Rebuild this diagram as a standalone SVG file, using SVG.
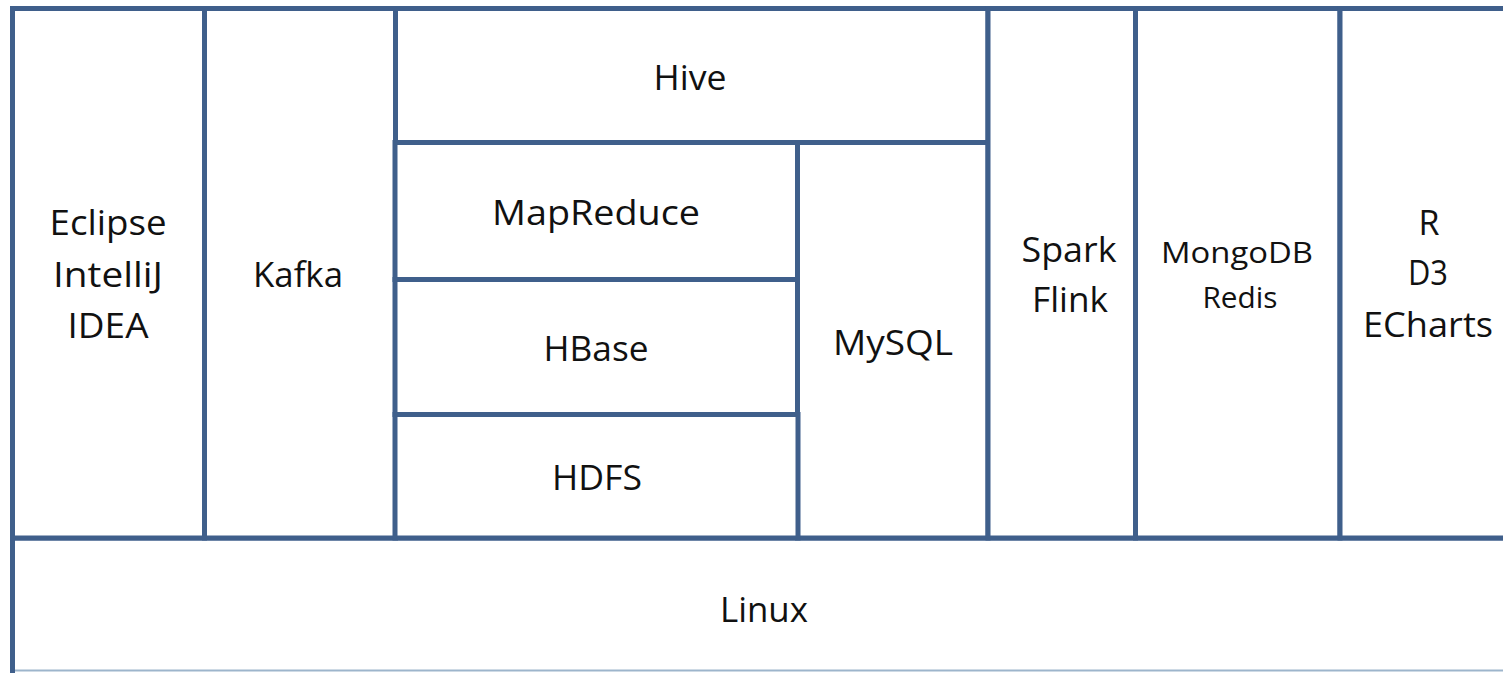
<svg xmlns="http://www.w3.org/2000/svg" width="1503" height="673" viewBox="0 0 1503 673">
<style>
.box{fill:#ffffff;stroke:#3f5f8b;stroke-width:5}
.t{font-family:"Open Sans","Liberation Sans",sans-serif;font-size:34px;fill:#111111;text-anchor:middle}
.s{font-size:29px}
</style>
<rect x="0" y="0" width="1503" height="673" fill="#ffffff"/>
<g id="linux">
<rect class="box" x="12.5" y="538" width="1510" height="160"/>
<line x1="15" y1="670.5" x2="1503" y2="670.5" stroke="#9db5cc" stroke-width="2"/>
<text class="t" x="764" y="622" textLength="88" lengthAdjust="spacingAndGlyphs">Linux</text>
</g>
<g id="ide">
<rect class="box" x="12.5" y="8.5" width="192" height="529.5"/>
<text class="t" x="108" y="235" textLength="117" lengthAdjust="spacingAndGlyphs">Eclipse</text>
<text class="t" x="108" y="287" textLength="110" lengthAdjust="spacingAndGlyphs">IntelliJ</text>
<text class="t" x="108" y="338" textLength="81" lengthAdjust="spacingAndGlyphs">IDEA</text>
</g>
<g id="kafka">
<rect class="box" x="204.5" y="8.5" width="191" height="529.5"/>
<text class="t" x="298" y="287" textLength="90" lengthAdjust="spacingAndGlyphs">Kafka</text>
</g>
<g id="hive">
<rect class="box" x="395.5" y="8.5" width="592.5" height="134"/>
<text class="t" x="690" y="90" textLength="73" lengthAdjust="spacingAndGlyphs">Hive</text>
</g>
<g id="mysql">
<rect class="box" x="797.5" y="142.5" width="190.5" height="395.5"/>
<text class="t" x="893" y="355" textLength="120" lengthAdjust="spacingAndGlyphs">MySQL</text>
</g>
<g id="mapreduce">
<rect class="box" x="395" y="142.5" width="402.5" height="137"/>
<text class="t" x="596" y="225" textLength="208" lengthAdjust="spacingAndGlyphs">MapReduce</text>
</g>
<g id="hbase">
<rect class="box" x="395" y="279.5" width="402.5" height="135"/>
<text class="t" x="596" y="361" textLength="105" lengthAdjust="spacingAndGlyphs">HBase</text>
</g>
<g id="hdfs">
<rect class="box" x="395" y="414.5" width="403" height="123.5"/>
<text class="t" x="597" y="490" textLength="90" lengthAdjust="spacingAndGlyphs">HDFS</text>
</g>
<g id="spark">
<rect class="box" x="988" y="8.5" width="147.5" height="529.5"/>
<text class="t" x="1069" y="262" textLength="95" lengthAdjust="spacingAndGlyphs">Spark</text>
<text class="t" x="1070" y="312" textLength="76" lengthAdjust="spacingAndGlyphs">Flink</text>
</g>
<g id="nosql">
<rect class="box" x="1135.5" y="8.5" width="204.5" height="529.5"/>
<text class="t s" x="1237" y="263" textLength="152" lengthAdjust="spacingAndGlyphs">MongoDB</text>
<text class="t s" x="1240" y="308" textLength="75" lengthAdjust="spacingAndGlyphs">Redis</text>
</g>
<g id="viz">
<rect class="box" x="1340" y="8.5" width="180" height="529.5"/>
<text class="t" x="1429" y="235">R</text>
<text class="t" x="1428" y="285" textLength="40" lengthAdjust="spacingAndGlyphs">D3</text>
<text class="t" x="1428" y="337" textLength="130" lengthAdjust="spacingAndGlyphs">ECharts</text>
</g>
<g id="connectors"></g>
</svg>
